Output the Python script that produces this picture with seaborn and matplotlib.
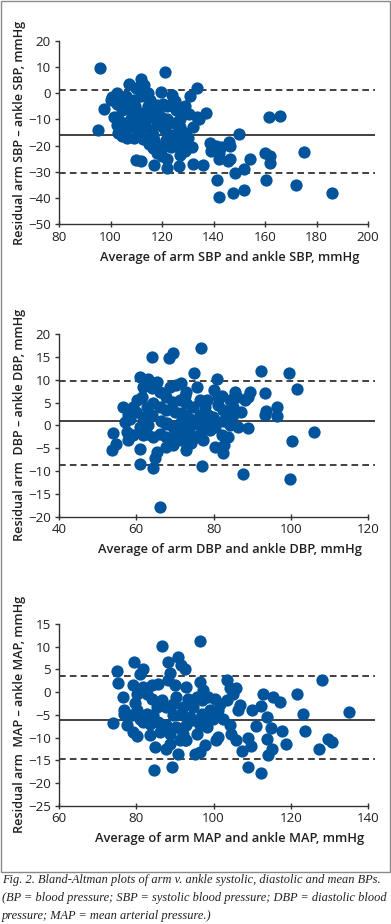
import matplotlib
matplotlib.use('Agg')
import matplotlib.pyplot as plt
import seaborn as sns
import pandas as pd

# values (average, difference) for each Bland-Altman panel
sbp_avg = [96, 95, 97.5, 121, 133.5, 131, 119.5, 107, 112, 113, 110, 102.5, 100.5, 124, 137,
           161.5, 166, 150, 175, 186, 172, 160.5, 160, 162, 162, 154, 152, 147.5, 152, 148.5,
           142, 141.5, 146.5, 146, 146.5, 145.5, 142, 142, 138.5, 139, 141, 143, 136, 132,
           126.5, 122, 117, 110, 112, 131.5, 129, 127, 128, 132, 134.5, 130.5, 129, 125.5,
           124, 122, 120.5, 118, 115.5, 114.5, 112, 109.5, 107, 105, 102.5, 104.5, 101.5,
           102.5, 103, 104.5, 106.5, 109, 110.5, 110, 108, 107, 113, 114.5, 115, 116.5, 118,
           119.5, 121.5, 123.5, 124.5, 122.5, 120.5, 118, 117, 119.5, 122, 124.5, 127, 129,
           130, 125.5, 127, 129.5, 133.5, 116, 117, 112.5, 120, 122, 112, 114.5, 109, 106,
           100, 105.5, 104, 111, 115, 118.5, 121, 126, 108.5, 103, 113.5, 116.5, 120, 125]
sbp_diff = [9.5, -14, -6, 8, 2, -1, 0.5, 3.5, 5.5, 3, 2, 0, -1.5, -0.5, -7.5,
            -9, -8.5, -15.5, -22.5, -38, -35, -33, -23, -24, -26.5, -25, -37, -38, -29, -30.5,
            -39.5, -33, -20, -18.5, -25, -26, -25, -23, -19, -22, -20, -20.5, -27.5, -27,
            -28, -28.5, -27.5, -25.5, -26, -20.5, -22, -23.5, -18.5, -13, -10, -8, -5, -6.5,
            -4, -5, -4, -4.5, -2.5, -5, -7.5, -5, -4, -2.5, -4, -6.5, -9,
            -12, -15, -16.5, -17, -17, -15, -12.5, -10, -13, -13, -17, -19.5, -21, -23,
            -20.5, -18, -20.5, -18, -15.5, -13, -11.5, -9, -9, -10, -11.5, -13, -15,
            -17, -15.5, -10, -7.5, -9, -14, -18, -17.5, -24, -25, -1, 0, -2.5, -1,
            -2.5, -11.5, -13, -9.5, -7, -6, -14, -20, -8, -10, -11, -16, -21, -3]
sbp_lines = [-15.8, 1.1, -30.6]  # mean, upper limit, lower limit

dbp_avg = [76.7, 64, 69.6, 68.5, 92.4, 99.5, 101.7, 93.3, 75, 81, 61, 63.1, 54, 53.6, 54.7,
           61, 61, 64.4, 66.1, 76.9, 87.7, 99.7, 100.2, 106, 96.5, 96.4, 93.7, 93.3, 89, 86.4,
           87.2, 89, 88.1, 85.5, 80, 82.2, 84.2, 82.5, 83.8, 82.5, 80.3, 82.1, 83.8, 82.7,
           82.5, 80.3, 77.3, 76.5, 74.3, 73, 71.7, 69.6, 67.8, 71.3, 69.6, 67.8, 66.1, 64.4,
           65.3, 64.8, 64, 61.8, 61, 59.2, 57.9, 57.5, 57.1, 57.9, 56.6, 59.2, 60.1, 61.4,
           61.8, 64, 65.3, 66.1, 67.8, 69.6, 68.7, 70.4, 71.7, 73, 75.6, 76.5, 77.8, 78.6,
           76.5, 74.7, 73, 71.7, 70, 67.8, 66.1, 64.4, 62.7, 73, 74.7, 76.5, 73.9, 75.6,
           72.2, 69.6, 67.8, 62.7, 61.8, 84.2, 85.1, 85.1, 81.2, 79.9, 78.6, 78.2, 81.2, 86,
           89.4, 71.3, 73, 71.7, 58.5, 63, 66.5, 70.5, 74, 79, 60, 68, 72.5]
dbp_diff = [16.9, 15, 15.8, 14.7, 11.8, 11.5, 8, 7, 11.5, 10.2, 10.5, 10.2, -1.6, -5.5, -4.1,
            -5.2, -8.5, -9.4, -17.8, -8.9, -10.6, -11.8, -3.4, -1.5, 4.1, 2, 3.1, 2.3, -0.6, -0.3,
            3, 6.3, 5.5, 7.4, 7.7, 6.4, 5.5, 3.3, 2.3, 1, -0.3, -2.1, -2.6, -4.3,
            -6, -4.7, -3.2, -1.8, -3.9, -5.5, -3.2, -4.3, -4.7, -1, -0.3, 0.4, -1.8, -2.5,
            -5.8, -7.2, 2.3, 1.9, -0.3, -2.1, -3.2, -1.4, 0.8, 2.3, 4.1, 4.1, 5.5, 6.3,
            8.5, 8.1, 9.6, 7.4, 6.3, 5.2, 8.5, 8.8, 9.2, 7.4, 8.5, 5.5, 4.1, 2.3,
            2.3, 4.1, 4.8, 2.6, 3, 3.4, 4.1, 4.8, 4.1, -0.3, 0.4, 0.4, -1.8, -2.5,
            -2.5, -2.5, -2.5, -1.8, -2.1, 0.1, 2.3, 4.1, 4.4, 1.9, -0.3, 5.5, 6.3, 6.3,
            7.4, 5.5, 2.3, 0.8, 1.5, 0, 1, -1, 1.5, -1, 3, 0.5, 6.5]
dbp_lines = [1.0, 9.8, -8.6]

map_avg = [96.5, 86.7, 90.7, 79.4, 88.1, 91.7, 92.6, 81.8, 80.9, 74.9, 75.3, 88.7, 96.5, 103.4,
           128.2, 121.7, 115.4, 117.2, 112.8, 135.1, 123.2, 123.6, 117.8, 118.7, 127.3, 129.7,
           130.8, 115.2, 114.1, 114.8, 113.8, 113.8, 112.4, 110, 111.1, 108.9, 109.8, 107.5,
           109, 112.4, 105.8, 104.5, 101.2, 100.6, 98.2, 97.8, 96.5, 95.2, 95.6, 90.9, 89.3,
           84.7, 84.8, 87.8, 88.7, 90.4, 92.2, 92.6, 83.5, 80.1, 79.2, 77.5, 74, 76.9, 76.9,
           76.5, 79.2, 80.1, 79.7, 81.8, 84, 85.7, 88.3, 90, 93, 97.3, 98.6, 100.3, 101.6,
           104.2, 105.9, 105, 106.8, 106.4, 103.4, 102.5, 99.9, 99.1, 96.9, 94.7, 93.9, 92.2,
           90.4, 91.7, 89.6, 87.8, 86.6, 85.3, 84, 82.7, 81.8, 83.5, 85.7, 87.8, 88.7, 86.1,
           93, 94.7, 96.5, 98.2, 101.2, 80.1, 78.8, 80.9, 104.2, 93, 91.3, 96.9, 95.6, 93.4,
           89.6, 82.7, 84.4]
map_diff = [11.3, 10.2, 7.8, 6.7, 6.7, 6, 5.2, 5.2, 4, 4.7, 2.1, 4.3, 2.3, 2.7,
            2.7, -0.4, -1, -2.1, -0.4, -4.4, -4.7, -8.5, -8.5, -11.5, -12.5, -10.2,
            -11, -12.4, -13.9, -7.8, -5.4, -10.2, -3.1, -3.9, -7.5, -10, -11.9, -13,
            -16.4, -17.7, -10.5, -9.1, -9.8, -10.5, -7.6, -11.7, -13.1, -13.5, -9.1, -13.6, -16.4,
            -17.1, -12, -12.4, -11.3, -7.6, -9.1, -10.5, -9.4, -9.7, -8.7, -7.2, -6.7, -3.9, -4.8,
            -1, 1.6, -0.3, -2.3, 1.2, 1.6, 1.9, 2.7, 1.6, 1.2, 0.5, -1, -1.4, -2.5,
            1, 1, -0.3, -2.9, -3.9, -1.7, -5.8, -5.8, -3.9, -4.7, -3.2, -5.4, -3.2,
            -1, -4.7, -5.1, -3.2, -1.7, -3.2, -1.4, -4.7, -6.5, -6.9, -6.5, -7.2, -9.1, -8.7,
            -7.2, -6.2, -7.2, -5.8, -3.9, -3.9, -5, -5.8, -7.2, -10.5, -10.5, -1.7, -1, -1.4,
            -2.5, -0.3, -5]
map_lines = [-6.2, 3.6, -14.7]

sbp_xticks = [80, 100, 120, 140, 160, 180, 200]
sbp_yticks = [20, 10, 0, -10, -20, -30, -40, -50]
dbp_xticks = [40, 60, 80, 100, 120]
dbp_yticks = [20, 15, 10, 5, 0, -5, -10, -15, -20]
map_xticks = [60, 80, 100, 120, 140]
map_yticks = [15, 10, 5, 0, -5, -10, -15, -20, -25]

xlabels = ['Average of arm SBP and ankle SBP, mmHg',
           'Average of arm DBP and ankle DBP, mmHg',
           'Average of arm MAP and ankle MAP, mmHg']
ylabels = ['Residual arm SBP \u2013 ankle SBP, mmHg',
           'Residual arm  DBP \u2013 ankle DBP, mmHg',
           'Residual arm  MAP \u2013 ankle MAP, mmHg']
caption = ['Fig. 2. Bland-Altman plots of arm v. ankle systolic, diastolic and mean BPs.',
           '(BP = blood pressure; SBP = systolic blood pressure; DBP = diastolic blood',
           'pressure; MAP = mean arterial pressure.)']

sns.set_theme(style='white')
plt.rcParams['font.family'] = ['Open Sans', 'DejaVu Sans']

blue = '#00549c'
ink = '#231f20'

fig = plt.figure(figsize=(3.91, 9.24), dpi=100)

# grey frame around the three panels
fig.patches.append(plt.Rectangle((0.002, 0.0563), 0.995, 0.9425, transform=fig.transFigure,
                                 fill=False, edgecolor='#8a8a8a', linewidth=1.0))

panels = [
    (sbp_avg, sbp_diff, sbp_lines, sbp_xticks, sbp_yticks, 0.7576, 0.198),
    (dbp_avg, dbp_diff, dbp_lines, dbp_xticks, dbp_yticks, 0.4408, 0.1977),
    (map_avg, map_diff, map_lines, map_xticks, map_yticks, 0.1280, 0.1966),
]

for i, (xs, ys, lines, xt, yt, bottom, height) in enumerate(panels):
    ax = fig.add_axes([0.1509, bottom, 0.8082, height])
    df = pd.DataFrame({'avg': xs, 'diff': ys})
    sns.scatterplot(data=df, x='avg', y='diff', ax=ax, color=blue, s=78,
                    linewidth=0, legend=False, zorder=3, clip_on=False)
    ax.axhline(lines[0], color=ink, lw=1.2, zorder=2)
    ax.axhline(lines[1], color=ink, lw=1.2, ls=(0, (4, 2.5)), zorder=2)
    ax.axhline(lines[2], color=ink, lw=1.2, ls=(0, (4, 2.5)), zorder=2)

    span = xt[-1] - xt[0]
    ax.set_xlim(xt[0], xt[-1] + span * 7 / 309)
    ax.set_ylim(min(yt), max(yt))
    ax.set_xticks(xt)
    ax.set_yticks(yt)
    for s in ['top', 'right']:
        ax.spines[s].set_visible(False)
    for s in ['left', 'bottom']:
        ax.spines[s].set_color('#333333')
        ax.spines[s].set_linewidth(1.0)
    ax.spines['bottom'].set_bounds(xt[0], xt[-1])

    ax.tick_params(axis='y', direction='out', length=3, width=1, color='#333333',
                   labelsize=9.6, labelcolor=ink, pad=3, left=True)
    ax.tick_params(axis='x', direction='inout', length=4.5, width=1, color='#333333',
                   labelsize=9.6, labelcolor=ink, pad=2.5, bottom=True)

    ax.set_xlabel(xlabels[i], fontsize=9.3, fontweight='semibold', color=ink)
    ax.set_ylabel(ylabels[i], fontsize=9.1, fontweight='semibold', color=ink)
    ax.xaxis.set_label_coords(0.54, -0.145)
    ax.yaxis.set_label_coords(-0.105, 0.5)

for j, line in enumerate(caption):
    fig.text(0.005, 1 - (880 + 18 * j) / 924, line, fontsize=8.95, style='italic',
             family='Liberation Serif', color=ink, va='center', ha='left')

fig.savefig('out.png', dpi=100)
